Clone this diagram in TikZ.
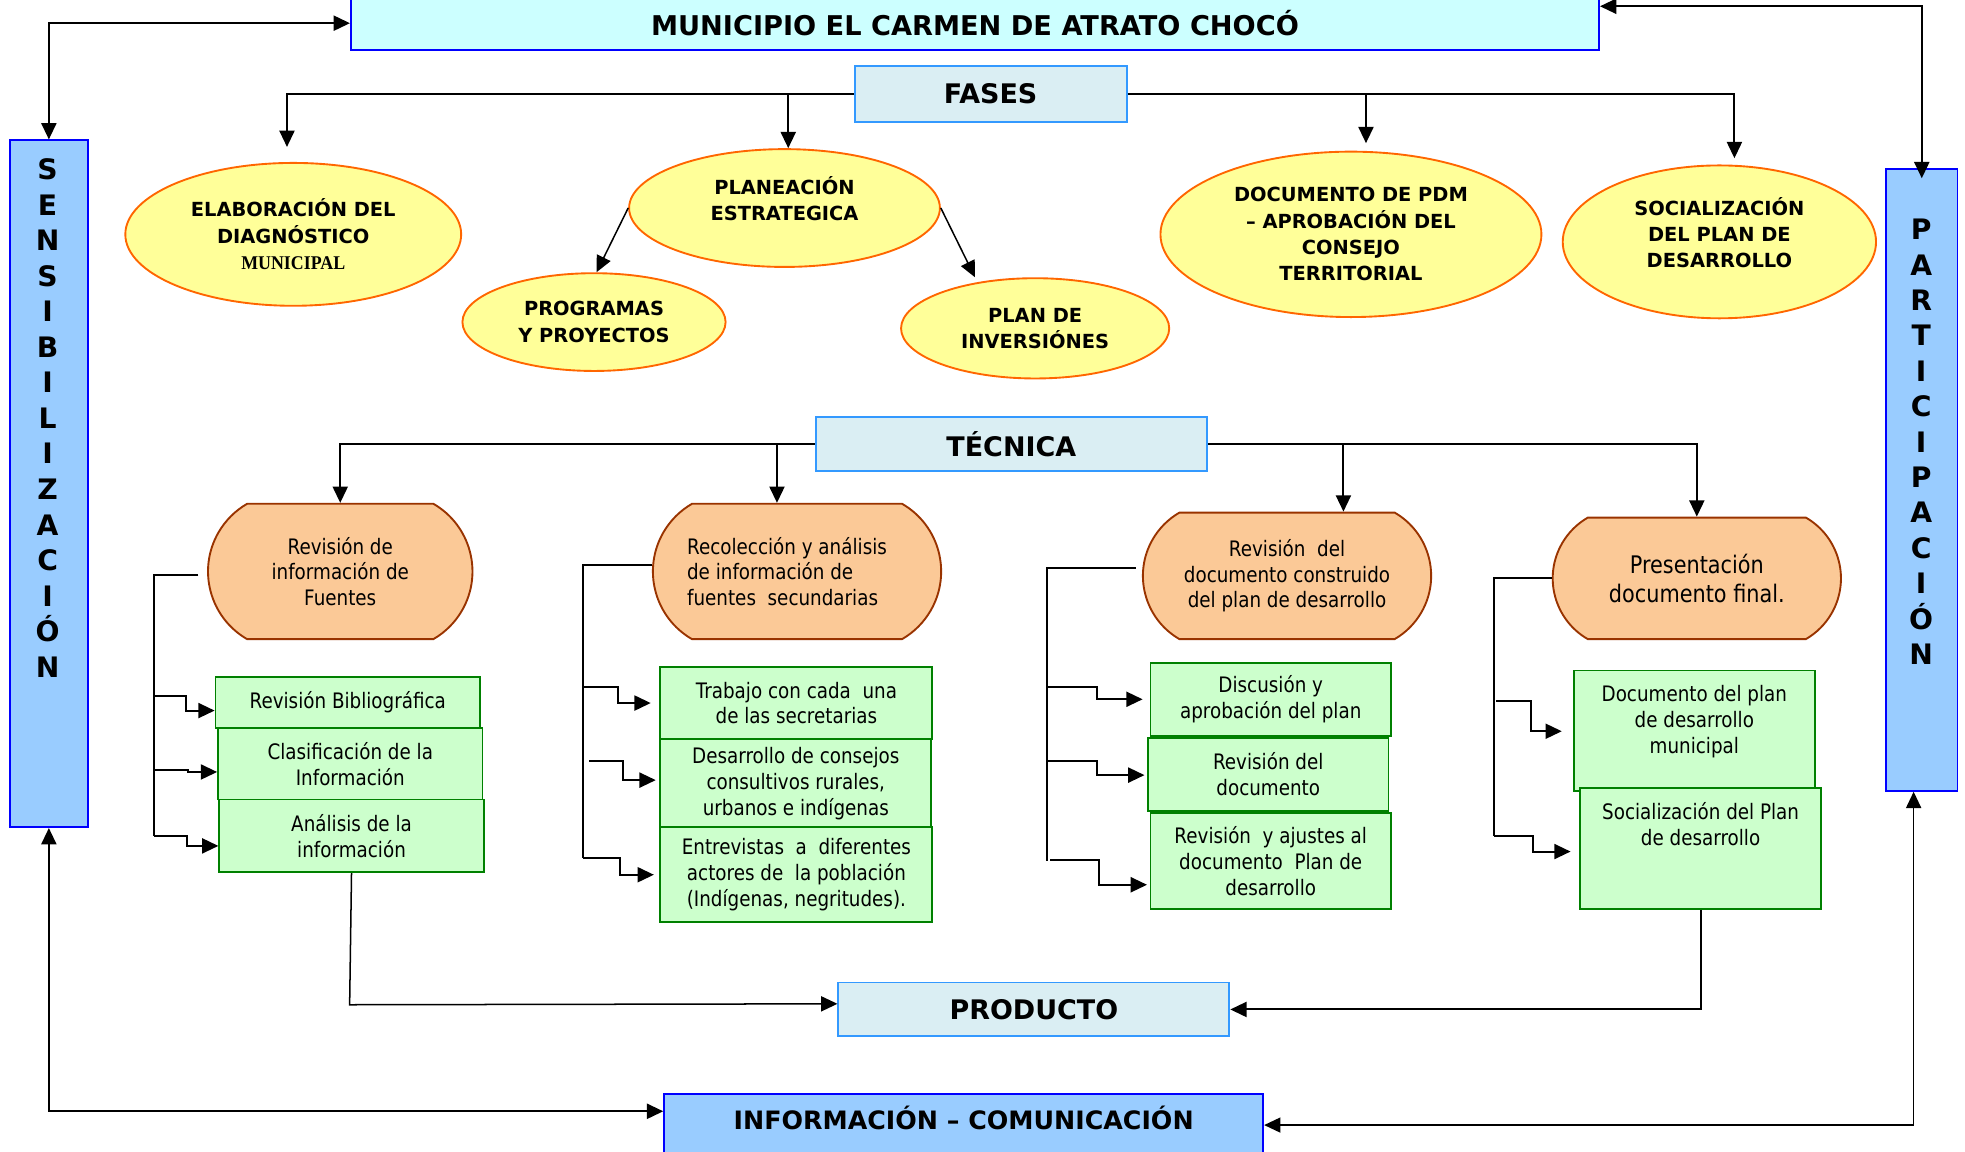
\documentclass[tikz,border=0pt]{standalone}
\usepackage{fontspec}
\setmainfont{DejaVu Sans}
\newfontfamily\tahoma[FakeStretch=0.86]{DejaVu Sans}
\newfontfamily\timesf[FakeStretch=0.92]{Liberation Serif}
\usetikzlibrary{shapes.geometric,shapes.misc,arrows.meta,positioning}

\definecolor{azul}{HTML}{0000FF}
\definecolor{celeste}{HTML}{CCFFFF}
\definecolor{azulm}{HTML}{99CCFF}
\definecolor{azulc}{HTML}{3399FF}
\definecolor{grisazul}{HTML}{DAEEF3}
\definecolor{amarillo}{HTML}{FFFF99}
\definecolor{naranja}{HTML}{FF6600}
\definecolor{durazno}{HTML}{FBC997}
\definecolor{cafe}{HTML}{993300}
\definecolor{verde}{HTML}{008000}
\definecolor{verdec}{HTML}{CCFFCC}

\newcommand\hueco[1]{\rule[-#1]{0pt}{#1}}

\begin{document}
\begin{tikzpicture}[x=1pt,y=-1pt,line width=1.6pt,
            >={Triangle[length=13pt,width=12pt]},
            titulo/.style={draw=azul,fill=celeste,line width=1.5pt,inner sep=0pt,
                font=\bfseries\fontsize{21.7}{25}\selectfont},
            seccion/.style={draw=azulc,fill=grisazul,line width=1.5pt,inner sep=0pt,
                font=\bfseries\fontsize{21.5}{25}\selectfont},
            lateral/.style={draw=azul,fill=azulm,line width=1.5pt,inner sep=0pt,
                font=\bfseries\fontsize{20.2}{25}\selectfont},
            letras/.style={inner sep=0pt,align=center},
            fase/.style={ellipse,draw=naranja,fill=amarillo,line width=1.5pt,inner sep=0pt,
                align=center,font=\bfseries\fontsize{15.5}{21}\selectfont},
            tarea/.style={rounded rectangle,rounded rectangle arc length=120,draw=cafe,
                fill=durazno,line width=1.5pt,inner sep=0pt,align=center,
                font=\tahoma\fontsize{17}{20.6}\selectfont},
            caja/.style={rectangle,draw=verde,fill=verdec,line width=1.5pt,inner sep=0pt,
                align=center,font=\tahoma\fontsize{17}{20.7}\selectfont}]

        \useasboundingbox (0,0) rectangle (1568,919);

        % Define main boxes
        \node[titulo,minimum width=996pt,minimum height=43pt] (mun) at (778,18.5)
            {MUNICIPIO EL CARMEN DE ATRATO CHOCÓ};
        \node[seccion,minimum width=217pt,minimum height=44pt] (fases) at (790.5,75) {FASES};
        \node[seccion,minimum width=312pt,minimum height=43pt] (tec) at (807,354.5) {TÉCNICA};
        \node[seccion,minimum width=312pt,minimum height=43pt] (prod) at (825,805.5) {PRODUCTO};
        \node[lateral,minimum width=478pt,minimum height=66pt,anchor=north,text depth=28pt] (info)
            at (769,872) {INFORMACIÓN – COMUNICACIÓN};

        \node[lateral,minimum width=62pt,minimum height=548pt] (sens) at (39,386) {};
        \node[letras,font=\bfseries\fontsize{22.5}{28.36}\selectfont] (sens-txt) at (38,333.5)
            {S\\E\\N\\S\\I\\B\\I\\L\\I\\Z\\A\\C\\I\\Ó\\N};
        \node[lateral,minimum width=57pt,minimum height=496pt] (part) at (1533.5,383) {};
        \node[letras,font=\bfseries\fontsize{22.5}{28.25}\selectfont] (part-txt) at (1533,352.5)
            {P\\A\\R\\T\\I\\C\\I\\P\\A\\C\\I\\Ó\\N};

        % Define phases
        \node[fase,minimum width=268pt,minimum height=114pt] (elab) at (234,187)
            {ELABORACIÓN DEL\\DIAGNÓSTICO\\{\timesf\bfseries MUNICIPAL}};
        \node[fase,minimum width=248pt,minimum height=94pt] (plan) at (626,166)
            {PLANEACIÓN\\ESTRATEGICA\hueco{15pt}};
        \node[fase,minimum width=210pt,minimum height=78pt] (prog) at (474,257)
            {PROGRAMAS\\Y PROYECTOS};
        \node[fase,minimum width=214pt,minimum height=80pt] (inv) at (826,262)
            {PLAN DE\\INVERSIÓNES};
        \node[fase,minimum width=304pt,minimum height=132pt] (docu) at (1078,187)
            {DOCUMENTO DE PDM\\– APROBACIÓN DEL\\CONSEJO\\TERRITORIAL};
        \node[fase,minimum width=250pt,minimum height=122pt] (soc) at (1372,193)
            {SOCIALIZACIÓN\\DEL PLAN DE\\DESARROLLO\hueco{15pt}};

        % Define technical steps
        \node[tarea,minimum width=211pt,minimum height=108pt] (rev) at (271.5,456)
            {Revisión de\\información de\\Fuentes};
        \node[tarea,minimum width=230pt,minimum height=108pt,align=left] (reco) at (636,456)
            {Recolección y análisis\hspace*{16pt}\\de información de\\fuentes\ \ secundarias};
        \node[tarea,minimum width=230pt,minimum height=101pt] (revdoc) at (1027,459.5)
            {Revisión\ \ del\\documento construido\\del plan de desarrollo};
        \node[tarea,minimum width=230pt,minimum height=97pt,
            font=\tahoma\fontsize{19.3}{23}\selectfont] (pres) at (1354,461.5)
            {Presentación\\documento final.};

        % Define activities
        \node[caja,minimum width=211pt,minimum height=41pt] (bib) at (277.5,560.5)
            {Revisión Bibliográfica};
        \node[caja,minimum width=211pt,minimum height=57pt] (clas) at (279.5,609.5)
            {Clasificación de la\\Información};
        \node[caja,minimum width=211pt,minimum height=58pt] (anal) at (280.5,667)
            {Análisis de la\\información};

        \node[caja,minimum width=217pt,minimum height=58pt] (trab) at (635.5,561)
            {Trabajo con cada\ \ una\\de las secretarias};
        \node[caja,minimum width=216pt,minimum height=70pt] (cons) at (635,625)
            {Desarrollo de consejos\\consultivos rurales,\\urbanos e indígenas};
        \node[caja,minimum width=217pt,minimum height=76pt] (entr) at (635.5,698)
            {Entrevistas\ \ a\ \ diferentes\\actores de\ \ la población\\(Indígenas, negritudes).};

        \node[caja,minimum width=192pt,minimum height=58pt] (disc) at (1014,558)
            {Discusión y\\aprobación del plan};
        \node[caja,minimum width=192pt,minimum height=58pt] (revd) at (1012,618)
            {Revisión del\\documento};
        \node[caja,minimum width=192pt,minimum height=76pt] (ajus) at (1014,687)
            {Revisión\ \ y ajustes al\\documento\ \ Plan de\\desarrollo};

        \node[caja,minimum width=192pt,minimum height=96pt] (docm) at (1352,583)
            {Documento del plan\\de desarrollo\\municipal\hueco{18pt}};
        \node[caja,minimum width=192pt,minimum height=96pt] (socp) at (1357,677)
            {Socialización del Plan\\de desarrollo\hueco{39pt}};

        % Draw outer loop
        \draw[<->] (sens.north) |- (mun.west);
        \draw[<->] ([yshift=13.5pt]mun.east) -| ([yshift=-8pt]part.north);
        \draw[<->] (sens.south) |- ([yshift=19pt]info.west);
        \draw[<->,line width=1.2pt] ([xshift=-6.5pt]part.south) |- ([yshift=8pt]info.east);

        % Draw phase edges
        \coordinate (fp) at ([xshift=3pt]plan.north);
        \coordinate (fd) at ([xshift=12pt,yshift=6pt]docu.north);
        \draw[->] (fases.west) -| ([xshift=-5pt,yshift=12pt]elab.north);
        \draw[->] (fases.west -| fp) -- (fp);
        \draw[->] (fases.east) -| ([xshift=12pt,yshift=5pt]soc.north);
        \draw[->] (fases.east -| fd) -- (fd);
        \draw[->,line width=1.2pt] (plan.west) -- ([xshift=2pt]prog.north);
        \draw[->,line width=1.2pt] (plan.east) -- ([xshift=-48pt]inv.north);

        % Draw technical edges
        \coordinate (tr) at ([xshift=-16pt]reco.north);
        \coordinate (tv) at ([xshift=45pt]revdoc.north);
        \draw[->] (tec.west) -| (rev.north);
        \draw[->] (tec.west -| tr) -- (tr);
        \draw[->] (tec.east) -| (pres.north);
        \draw[->] (tec.east -| tv) -- (tv);

        % Draw activity edges
        \coordinate (c1) at (123,667);
        \draw ([xshift=-7pt,yshift=-3pt]rev.west) -| (c1);
        \draw[->] (123,555) -| (148.5,567) -- (bib.west |- 0,567);
        \draw[->] (123,614.5) -| (150,616) -- (clas.west |- 0,616);
        \draw[->] (c1) -| (149,675) -- (anal.west |- 0,675);

        \coordinate (c2) at (465.5,685);
        \draw ([yshift=5.5pt]reco.west) -| (c2);
        \draw[->,shorten >=7pt] (465.5,548) -| (493,561) -- (trab.west |- 0,561);
        \draw[->,shorten >=3pt] (470,607) -| (497.5,622.5) -- (cons.west |- 0,622.5);
        \draw[->,shorten >=4.5pt] (c2) -| (494.5,698) -- (entr.west |- 0,698);

        \coordinate (c3) at (835.5,687);
        \draw ([xshift=-5pt,yshift=6pt]revdoc.west) -| (c3);
        \draw[->,shorten >=5.5pt] (835.5,548) -| (875.5,558) -- (disc.west |- 0,558);
        \draw[->,shorten >=2pt] (835.5,607) -| (875.5,618.5) -- (revd.west |- 0,618.5);
        \draw[->,shorten >=2pt] (838,686.5) -| (877,706) -- (ajus.west |- 0,706);

        \coordinate (c4) at (1192.5,667);
        \draw (pres.west) -| (c4);
        \draw[->,shorten >=9pt] (1194,559) -| (1221.5,583.5) -- (docm.west |- 0,583.5);
        \draw[->,shorten >=7pt] (c4) -| (1223.5,679.5) -- (socp.west |- 0,679.5);

        % Draw product edges
        \draw[->,line width=1.2pt] (anal.south) -- ++(-1.5,105) -- ([yshift=4.5pt]prod.west);
        \draw[->] (socp.south) |- (prod.east);

        \end{tikzpicture}
\end{document}
